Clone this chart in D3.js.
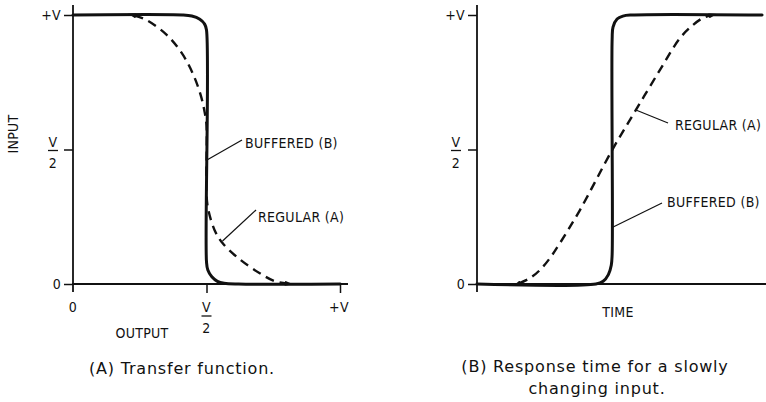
<!DOCTYPE html>
<html>
<head>
<meta charset="utf-8">
<script src="https://cdn.jsdelivr.net/npm/d3@7"></script>
<style>
  html, body { margin: 0; padding: 0; background: #fff; }
  svg { display: block; }
  .lbl { font-family: "Liberation Sans Narrow", "DejaVu Sans Condensed", "Liberation Sans", sans-serif; font-size: 14px; fill: #111; letter-spacing: 0.3px; }
  .title { font-family: "DejaVu Sans", "Open Sans", sans-serif; font-size: 16px; fill: #111; letter-spacing: 0.8px; }
</style>
</head>
<body>
<div id="chart"></div>
<script>
// Panel A: transfer function (x = output as fraction of V, y = input as fraction of V)
const transferBuffered = [
  [0, 1], [0.41, 1], [0.445, 0.996], [0.475, 0.984], [0.493, 0.966], [0.5, 0.944],
  [0.5, 0.082], [0.505, 0.052], [0.52, 0.027], [0.541, 0.01], [0.566, 0.003], [0.62, 0], [1, 0]
];
const transferRegular = [
  [0.23, 0.998], [0.276, 0.981], [0.351, 0.926], [0.407, 0.859], [0.448, 0.784],
  [0.478, 0.703], [0.493, 0.639], [0.5, 0.591], [0.5, 0.331], [0.507, 0.275],
  [0.53, 0.201], [0.56, 0.152], [0.623, 0.093], [0.698, 0.041], [0.754, 0.011], [0.8, 0.002]
];

// Panel B: response over time (t in arbitrary units 0..10, y as fraction of V)
const responseBuffered = [
  [0, 0], [4.1, 0], [4.35, 0.01], [4.53, 0.035], [4.63, 0.07], [4.66, 0.11],
  [4.66, 0.91], [4.69, 0.955], [4.83, 0.985], [5.03, 0.996], [5.34, 1], [9.83, 1]
];
const responseRegular = [
  [1.45, 0.002], [1.83, 0.022], [2.17, 0.052], [2.52, 0.097], [2.86, 0.152],
  [3.55, 0.275], [4.66, 0.498], [5.48, 0.647], [6.31, 0.796], [7.0, 0.914],
  [7.45, 0.963], [7.79, 0.989], [8.05, 0.998]
];

const levelTicks = [0, 0.5, 1];
const levelLabels = ["0", "V/2", "+V"];
const outputTicks = [0, 0.5, 1];
const outputLabels = ["0", "V/2", "+V"];

const width = 766, height = 402;
const svg = d3.select("#chart").append("svg").attr("width", width).attr("height", height);

// small wedge where the dashed curve merges into the solid one
svg.append("defs").append("marker")
  .attr("id", "wedge").attr("viewBox", "0 0 10 6").attr("refX", 2).attr("refY", 3)
  .attr("markerUnits", "userSpaceOnUse").attr("markerWidth", 10).attr("markerHeight", 5)
  .attr("orient", "auto-start-reverse")
  .append("path").attr("d", "M0,0L10,3L0,6Z").attr("fill", "#111");

const yA = d3.scaleLinear().domain([0, 1]).range([284, 15]);
const xA = d3.scaleLinear().domain([0, 1]).range([73, 340]);
const yB = yA.copy();
const xB = d3.scaleLinear().domain([0, 10]).range([477, 767]);

// draw a stacked label: "V/2" becomes a fraction, others plain
function drawLabel(g, text, x, y, anchor) {
  if (text === "V/2") {
    g.append("text").attr("class", "lbl").attr("x", x).attr("y", y - 3).attr("text-anchor", "middle").text("V");
    g.append("line").attr("x1", x - 5).attr("x2", x + 5).attr("y1", y + 1).attr("y2", y + 1)
      .attr("stroke", "#111").attr("stroke-width", 1.3);
    g.append("text").attr("class", "lbl").attr("x", x).attr("y", y + 18).attr("text-anchor", "middle").text("2");
  } else {
    g.append("text").attr("class", "lbl").attr("x", x).attr("y", y).attr("dy", "0.36em")
      .attr("text-anchor", anchor).text(text);
  }
}

function panel(x, y, opts) {
  const g = svg.append("g");

  // y axis ticks
  g.append("g").attr("transform", `translate(${x.range()[0]},0)`)
    .call(d3.axisLeft(y).tickValues(levelTicks).tickSize(9).tickSizeOuter(0).tickFormat(""))
    .call(a => a.select(".domain").remove())
    .call(a => a.selectAll("line").attr("stroke", "#111").attr("stroke-width", 1.5));

  // axis lines
  g.append("line").attr("x1", x.range()[0]).attr("x2", x.range()[0])
    .attr("y1", y(1.037)).attr("y2", y(-0.03)).attr("stroke", "#111").attr("stroke-width", 1.8);
  g.append("line").attr("x1", x.range()[0] - 1).attr("x2", opts.axisEnd)
    .attr("y1", y(0)).attr("y2", y(0)).attr("stroke", "#111").attr("stroke-width", 1.8);

  levelTicks.forEach((v, i) => {
    const t = levelLabels[i];
    if (t === "V/2") drawLabel(g, t, x.range()[0] - opts.fracOff, y(v), "middle");
    else drawLabel(g, t, x.range()[0] - 12, y(v), "end");
  });

  const line = d3.line().x(d => x(d[0])).y(d => y(d[1])).curve(d3.curveCatmullRom.alpha(0.5));

  g.append("path").datum(opts.buffered).attr("d", line)
    .attr("fill", "none").attr("stroke", "#111").attr("stroke-width", 3)
    .attr("stroke-linejoin", "round").attr("stroke-linecap", "round");
  g.append("path").datum(opts.regular).attr("d", line)
    .attr("fill", "none").attr("stroke", "#111").attr("stroke-width", 2.4)
    .attr("stroke-dasharray", "9,6")
    .attr("marker-start", "url(#wedge)").attr("marker-end", "url(#wedge)");
  return g;
}

// ---------- Panel A ----------
const gA = panel(xA, yA, {
  buffered: transferBuffered, regular: transferRegular, axisEnd: 348, fracOff: 20
});
gA.append("g").attr("transform", `translate(0,${yA(0)})`)
  .call(d3.axisBottom(xA).tickValues(outputTicks.slice(1)).tickSize(9).tickFormat(""))
  .call(a => a.select(".domain").remove())
  .call(a => a.selectAll("line").attr("stroke", "#111").attr("stroke-width", 1.5));
outputTicks.forEach((v, i) => {
  const t = outputLabels[i];
  if (t === "V/2") drawLabel(gA, t, xA(v), 315, "middle");
  else gA.append("text").attr("class", "lbl").attr("x", xA(v) - (t === "+V" ? 1 : 0)).attr("y", 312)
    .attr("text-anchor", "middle").text(t);
});
gA.append("text").attr("class", "lbl").attr("x", 142).attr("y", 338).attr("text-anchor", "middle").text("OUTPUT");
gA.append("text").attr("class", "lbl").attr("transform", "translate(18,134) rotate(-90)")
  .attr("text-anchor", "middle").text("INPUT");

// callouts A
gA.append("line").attr("x1", xA(0.5)).attr("y1", yA(0.46)).attr("x2", 242).attr("y2", 140)
  .attr("stroke", "#111").attr("stroke-width", 1.2);
gA.append("text").attr("class", "lbl").attr("x", 245).attr("y", 148).text("BUFFERED (B)");
gA.append("line").attr("x1", xA(0.56)).attr("y1", yA(0.16)).attr("x2", 256).attr("y2", 210)
  .attr("stroke", "#111").attr("stroke-width", 1.2);
gA.append("text").attr("class", "lbl").attr("x", 258).attr("y", 222).text("REGULAR (A)");

gA.append("text").attr("class", "title").attr("x", 182).attr("y", 374).attr("text-anchor", "middle")
  .text("(A) Transfer function.");

// ---------- Panel B ----------
const gB = panel(xB, yB, {
  buffered: responseBuffered, regular: responseRegular, axisEnd: 766, fracOff: 21
});
gB.append("text").attr("class", "lbl").attr("x", 618).attr("y", 317).attr("text-anchor", "middle").text("TIME");

gB.append("line").attr("x1", xB(5.48)).attr("y1", yB(0.647)).attr("x2", 668).attr("y2", 123)
  .attr("stroke", "#111").attr("stroke-width", 1.2);
gB.append("text").attr("class", "lbl").attr("x", 675).attr("y", 130).text("REGULAR (A)");
gB.append("line").attr("x1", xB(4.66)).attr("y1", yB(0.21)).attr("x2", 662).attr("y2", 203)
  .attr("stroke", "#111").attr("stroke-width", 1.2);
gB.append("text").attr("class", "lbl").attr("x", 667).attr("y", 207).text("BUFFERED (B)");

gB.append("text").attr("class", "title").attr("x", 595).attr("y", 372).attr("text-anchor", "middle")
  .text("(B) Response time for a slowly");
gB.append("text").attr("class", "title").attr("x", 597).attr("y", 394).attr("text-anchor", "middle")
  .text("changing input.");
</script>
</body>
</html>
